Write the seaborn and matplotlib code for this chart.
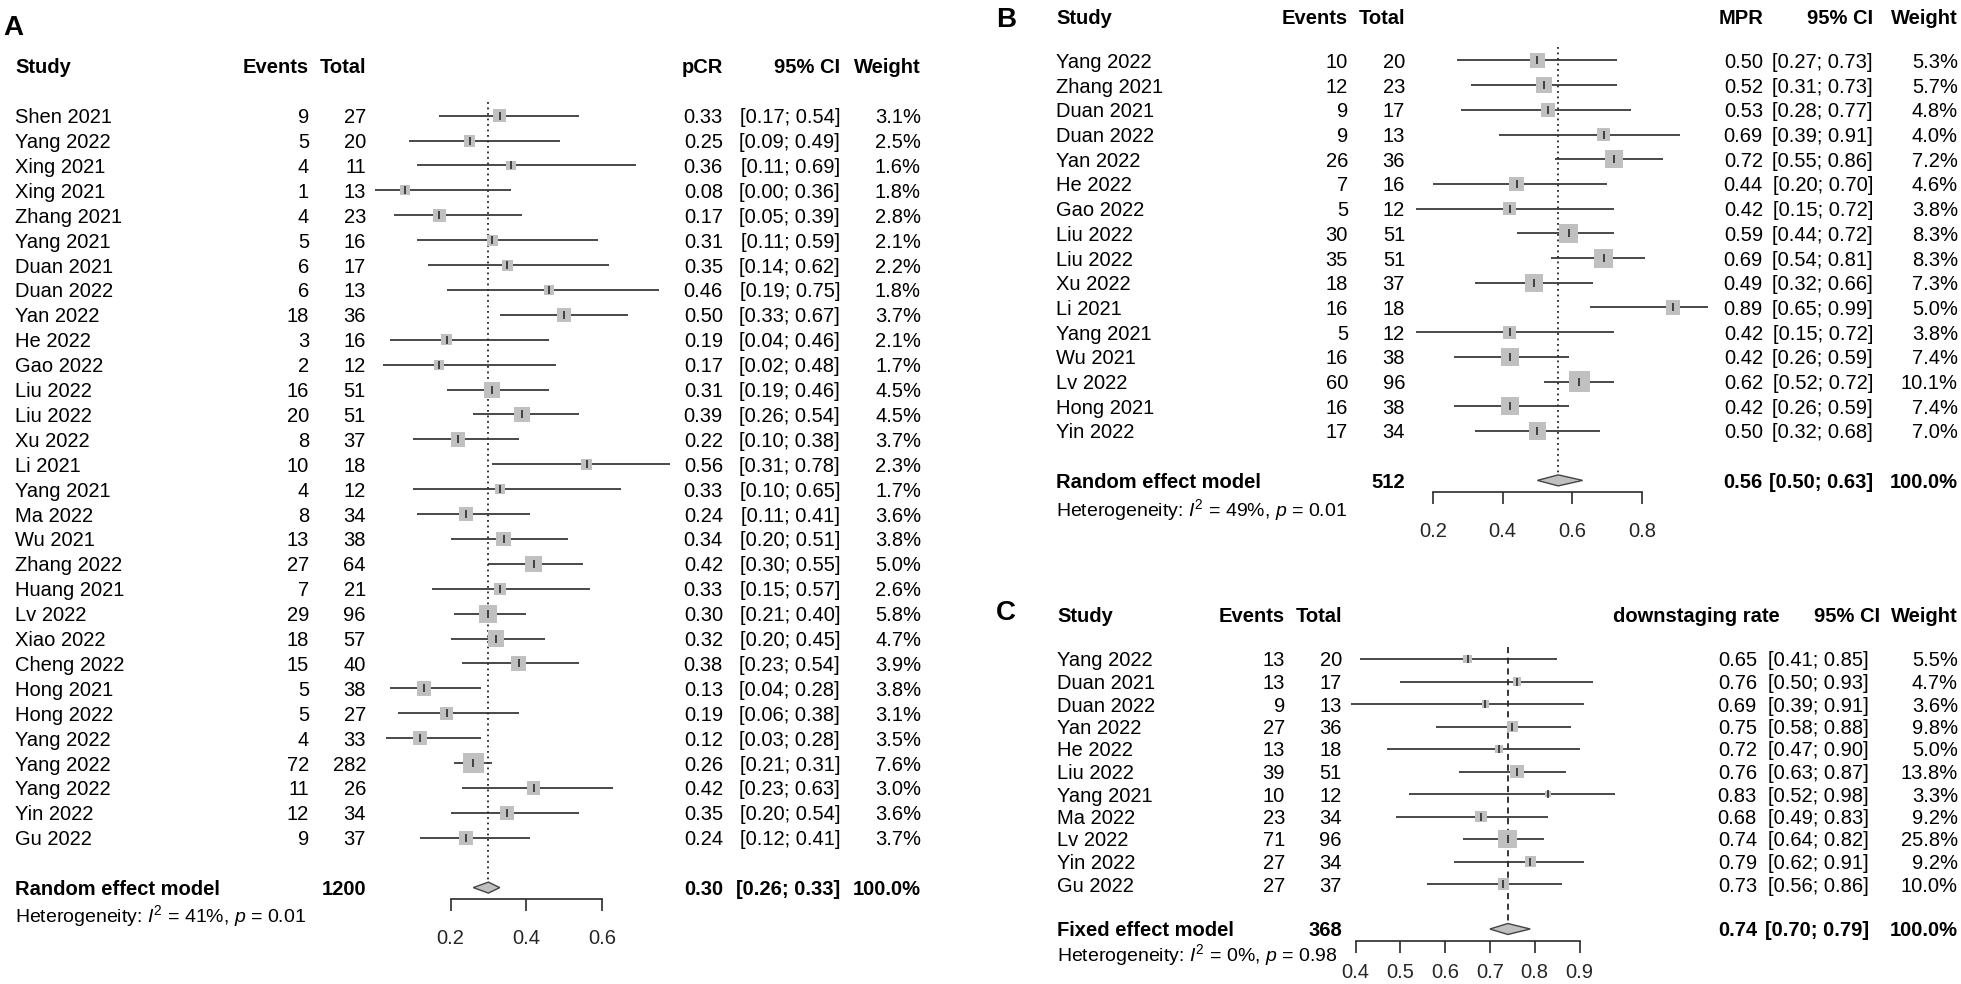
import matplotlib
matplotlib.use("Agg")
import matplotlib.pyplot as plt
import matplotlib.transforms as mtransforms
import numpy as np
import pandas as pd
import seaborn as sns

W, H = 1961, 984

# ---------------- panel A: pCR ----------------
a_study = ["Shen 2021", "Yang 2022", "Xing 2021", "Xing 2021", "Zhang 2021", "Yang 2021",
           "Duan 2021", "Duan 2022", "Yan 2022", "He 2022", "Gao 2022", "Liu 2022",
           "Liu 2022", "Xu 2022", "Li 2021", "Yang 2021", "Ma 2022", "Wu 2021",
           "Zhang 2022", "Huang 2021", "Lv 2022", "Xiao 2022", "Cheng 2022", "Hong 2021",
           "Hong 2022", "Yang 2022", "Yang 2022", "Yang 2022", "Yin 2022", "Gu 2022"]
a_events = [9, 5, 4, 1, 4, 5, 6, 6, 18, 3, 2, 16, 20, 8, 10, 4, 8, 13, 27, 7, 29, 18, 15,
            5, 5, 4, 72, 11, 12, 9]
a_total = [27, 20, 11, 13, 23, 16, 17, 13, 36, 16, 12, 51, 51, 37, 18, 12, 34, 38, 64, 21,
           96, 57, 40, 38, 27, 33, 282, 26, 34, 37]
a_est = [0.33, 0.25, 0.36, 0.08, 0.17, 0.31, 0.35, 0.46, 0.50, 0.19, 0.17, 0.31, 0.39, 0.22,
         0.56, 0.33, 0.24, 0.34, 0.42, 0.33, 0.30, 0.32, 0.38, 0.13, 0.19, 0.12, 0.26, 0.42,
         0.35, 0.24]
a_lo = [0.17, 0.09, 0.11, 0.00, 0.05, 0.11, 0.14, 0.19, 0.33, 0.04, 0.02, 0.19, 0.26, 0.10,
        0.31, 0.10, 0.11, 0.20, 0.30, 0.15, 0.21, 0.20, 0.23, 0.04, 0.06, 0.03, 0.21, 0.23,
        0.20, 0.12]
a_hi = [0.54, 0.49, 0.69, 0.36, 0.39, 0.59, 0.62, 0.75, 0.67, 0.46, 0.48, 0.46, 0.54, 0.38,
        0.78, 0.65, 0.41, 0.51, 0.55, 0.57, 0.40, 0.45, 0.54, 0.28, 0.38, 0.28, 0.31, 0.63,
        0.54, 0.41]
a_weight = [3.1, 2.5, 1.6, 1.8, 2.8, 2.1, 2.2, 1.8, 3.7, 2.1, 1.7, 4.5, 4.5, 3.7, 2.3, 1.7,
            3.6, 3.8, 5.0, 2.6, 5.8, 4.7, 3.9, 3.8, 3.1, 3.5, 7.6, 3.0, 3.6, 3.7]
a_pooled = [0.30, 0.26, 0.33]
a_sum_total = 1200
a_ticks = [0.2, 0.4, 0.6]

# ---------------- panel B: MPR ----------------
b_study = ["Yang 2022", "Zhang 2021", "Duan 2021", "Duan 2022", "Yan 2022", "He 2022",
           "Gao 2022", "Liu 2022", "Liu 2022", "Xu 2022", "Li 2021", "Yang 2021",
           "Wu 2021", "Lv 2022", "Hong 2021", "Yin 2022"]
b_events = [10, 12, 9, 9, 26, 7, 5, 30, 35, 18, 16, 5, 16, 60, 16, 17]
b_total = [20, 23, 17, 13, 36, 16, 12, 51, 51, 37, 18, 12, 38, 96, 38, 34]
b_est = [0.50, 0.52, 0.53, 0.69, 0.72, 0.44, 0.42, 0.59, 0.69, 0.49, 0.89, 0.42, 0.42, 0.62,
         0.42, 0.50]
b_lo = [0.27, 0.31, 0.28, 0.39, 0.55, 0.20, 0.15, 0.44, 0.54, 0.32, 0.65, 0.15, 0.26, 0.52,
        0.26, 0.32]
b_hi = [0.73, 0.73, 0.77, 0.91, 0.86, 0.70, 0.72, 0.72, 0.81, 0.66, 0.99, 0.72, 0.59, 0.72,
        0.59, 0.68]
b_weight = [5.3, 5.7, 4.8, 4.0, 7.2, 4.6, 3.8, 8.3, 8.3, 7.3, 5.0, 3.8, 7.4, 10.1, 7.4, 7.0]
b_pooled = [0.56, 0.50, 0.63]
b_sum_total = 512
b_ticks = [0.2, 0.4, 0.6, 0.8]

# ---------------- panel C: downstaging ----------------
c_study = ["Yang 2022", "Duan 2021", "Duan 2022", "Yan 2022", "He 2022", "Liu 2022",
           "Yang 2021", "Ma 2022", "Lv 2022", "Yin 2022", "Gu 2022"]
c_events = [13, 13, 9, 27, 13, 39, 10, 23, 71, 27, 27]
c_total = [20, 17, 13, 36, 18, 51, 12, 34, 96, 34, 37]
c_est = [0.65, 0.76, 0.69, 0.75, 0.72, 0.76, 0.83, 0.68, 0.74, 0.79, 0.73]
c_lo = [0.41, 0.50, 0.39, 0.58, 0.47, 0.63, 0.52, 0.49, 0.64, 0.62, 0.56]
c_hi = [0.85, 0.93, 0.91, 0.88, 0.90, 0.87, 0.98, 0.83, 0.82, 0.91, 0.86]
c_weight = [5.5, 4.7, 3.6, 9.8, 5.0, 13.8, 3.3, 9.2, 25.8, 9.2, 10.0]
c_pooled = [0.74, 0.70, 0.79]
c_sum_total = 368
c_ticks = [0.4, 0.5, 0.6, 0.7, 0.8, 0.9]

sns.set_theme(style="white")
plt.rcParams["font.family"] = ["Liberation Sans", "DejaVu Sans"]
plt.rcParams["mathtext.fontset"] = "custom"
plt.rcParams["mathtext.rm"] = "Liberation Sans"
plt.rcParams["mathtext.it"] = "Liberation Sans:italic"
plt.rcParams["mathtext.bf"] = "Liberation Sans:bold"

FS = 14.5
SQ_COL = "#c0c0c0"
LN_COL = "#2a2a2a"

fig = plt.figure(figsize=(W / 100, H / 100), dpi=100)
fig.patch.set_facecolor("white")

# pixel transform (x from left, y from top)
px = mtransforms.Affine2D().scale(1 / W, -1 / H).translate(0, 1) + fig.transFigure


def forest(study, events, total, est, lo, hi, weight, pooled, sum_total, ticks,
           lay, het_text, model_label, eff_label, ref_style):
    n = len(study)
    rows = np.arange(n)
    srow = lay["sum_row"]
    step = lay["step"]
    x0, ppu = lay["x0"], lay["ppu"]
    xl = lay["xlim"]
    r_top, r_bot = -3, srow + 3
    top_px = lay["y0"] + r_top * step
    bot_px = lay["y0"] + r_bot * step
    ax = fig.add_axes([(x0 + xl[0] * ppu) / W, 1 - bot_px / H,
                       (xl[1] - xl[0]) * ppu / W, (bot_px - top_px) / H])
    ax.set_xlim(*xl)
    ax.set_ylim(r_bot, r_top)
    ax.patch.set_alpha(0)

    # confidence intervals
    ax.hlines(rows, lo, hi, color=LN_COL, lw=1.2, zorder=1)
    # study squares, area proportional to weight
    df = pd.DataFrame({"est": est, "row": rows, "weight": weight})
    sns.scatterplot(data=df, x="est", y="row", size="weight",
                    sizes=(0, lay["sq"] ** 2), size_norm=(0, max(weight)),
                    marker="s", color=SQ_COL, edgecolor="none", linewidth=0,
                    legend=False, ax=ax, zorder=2)
    ax.plot(est, rows, ls="none", marker="|", ms=5.8, mew=1.2, color=LN_COL, zorder=3)

    # pooled diamond
    dh = 5.5 / step
    ax.fill([pooled[1], pooled[0], pooled[2], pooled[0]],
            [srow, srow - dh, srow, srow + dh],
            facecolor=SQ_COL, edgecolor="#444444", lw=1.0, zorder=3)
    ax.vlines(pooled[0], -0.55, srow - dh, color="black", lw=1.1,
              linestyles=ref_style, zorder=0)

    # axis
    for s in ["left", "right", "top"]:
        ax.spines[s].set_visible(False)
    ax.spines["bottom"].set_position(("data", srow + 11.7 / step))
    ax.spines["bottom"].set_bounds(ticks[0], ticks[-1])
    ax.spines["bottom"].set_color(LN_COL)
    ax.spines["bottom"].set_linewidth(1.2)
    ax.set_xticks(ticks)
    ax.set_xticklabels([f"{t:g}" for t in ticks])
    ax.tick_params(axis="x", direction="out", length=8.6, width=1.2, color=LN_COL,
                   pad=lay["pad"], labelsize=FS, bottom=True)
    ax.set_yticks([])
    ax.set_xlabel("")
    ax.set_ylabel("")

    tr = mtransforms.blended_transform_factory(px, ax.transData)

    def txt(x, y, s, ha="left", bold=False, size=FS):
        ax.text(x, y, s, transform=tr, ha=ha, va="center_baseline", fontsize=size,
                fontweight="bold" if bold else "normal", color="black", clip_on=False)

    c = lay["cols"]
    hr = lay["head_row"]
    txt(c["study"], hr, "Study", bold=True)
    txt(c["events"], hr, "Events", ha="right", bold=True)
    txt(c["total"], hr, "Total", ha="right", bold=True)
    txt(lay["h_eff"], hr, eff_label, ha="right", bold=True)
    txt(lay["h_ci"], hr, "95% CI", ha="right", bold=True)
    txt(c["weight"], hr, "Weight", ha="right", bold=True)

    for i in range(n):
        txt(c["study"], i, study[i])
        txt(c["events"], i, str(events[i]), ha="right")
        txt(c["total"], i, str(total[i]), ha="right")
        txt(c["eff"], i, f"{est[i]:.2f}", ha="right")
        txt(c["ci"], i, f"[{lo[i]:.2f}; {hi[i]:.2f}]", ha="right")
        txt(c["weight"], i, f"{weight[i]:.1f}%", ha="right")

    txt(c["study"], srow, model_label, bold=True)
    txt(c["total"], srow, str(sum_total), ha="right", bold=True)
    txt(c["eff"], srow, f"{pooled[0]:.2f}", ha="right", bold=True)
    txt(c["ci"], srow, f"[{pooled[1]:.2f}; {pooled[2]:.2f}]", ha="right", bold=True)
    txt(c["weight"], srow, "100.0%", ha="right", bold=True)
    txt(c["study"], lay["het_row"], het_text, size=FS - 0.5)
    return ax


lay_a = dict(x0=375, ppu=378, xlim=(0.0, 0.8), y0=115.7, step=24.9, sum_row=31,
             het_row=32, head_row=-2, sq=14.9, h_eff=723, h_ci=840, pad=13,
             cols=dict(study=15, events=309, total=366, eff=723, ci=840, weight=921))
lay_b = dict(x0=1363.4, ppu=348, xlim=(0.1, 1.0), y0=60.5, step=24.7, sum_row=17,
             het_row=18.05, head_row=-1.8, sq=15.1, h_eff=1763, h_ci=1873, pad=13,
             cols=dict(study=1056, events=1348, total=1405, eff=1763, ci=1873, weight=1958))
lay_c = dict(x0=1176.3, ppu=448, xlim=(0.35, 1.0), y0=659, step=22.5, sum_row=12,
             het_row=13, head_row=-2, sq=13.5, h_eff=1780, h_ci=1880, pad=7.5,
             cols=dict(study=1057, events=1285, total=1342, eff=1757, ci=1869, weight=1958))

forest(a_study, a_events, a_total, a_est, a_lo, a_hi, a_weight, a_pooled, a_sum_total,
       a_ticks, lay_a, r"Heterogeneity: $I^2$ = 41%, $p$ = 0.01", "Random effect model",
       "pCR", (0, (1.2, 2.4)))
forest(b_study, b_events, b_total, b_est, b_lo, b_hi, b_weight, b_pooled, b_sum_total,
       b_ticks, lay_b, r"Heterogeneity: $I^2$ = 49%, $p$ = 0.01", "Random effect model",
       "MPR", (0, (1.2, 2.4)))
forest(c_study, c_events, c_total, c_est, c_lo, c_hi, c_weight, c_pooled, c_sum_total,
       c_ticks, lay_c, r"Heterogeneity: $I^2$ = 0%, $p$ = 0.98", "Fixed effect model",
       "downstaging rate", (0, (4, 3)))

# panel letters
for lab, x, y in [("A", 3, 25), ("B", 996, 17), ("C", 996, 610)]:
    fig.text(x, y, lab, transform=px, ha="left", va="center_baseline", fontsize=20,
             fontweight="bold", color="black")

fig.savefig("out.png", dpi=100, facecolor="white")
